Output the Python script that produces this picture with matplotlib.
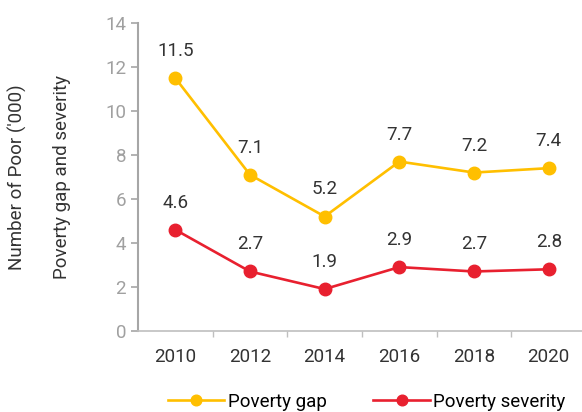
import matplotlib
matplotlib.use("Agg")
import matplotlib.pyplot as plt
from matplotlib.ticker import FixedLocator

years = [2010, 2012, 2014, 2016, 2018, 2020]
poverty_gap = [11.5, 7.1, 5.2, 7.7, 7.2, 7.4]
poverty_severity = [4.6, 2.7, 1.9, 2.9, 2.7, 2.8]
yticks = [0, 2, 4, 6, 8, 10, 12, 14]

plt.rcParams['font.family'] = ['Roboto', 'DejaVu Sans']
plt.rcParams['font.weight'] = 'normal'

fig = plt.figure(figsize=(5.82, 4.12), dpi=100)
ax = fig.add_axes([0.237, 0.197, 0.77, 0.747])

gap_c = '#FFBF00'
sev_c = '#E8202F'
txt_c = '#333333'
ax.plot(years, poverty_gap, color=gap_c, lw=1.9, marker='o', ms=9, label='Poverty gap', clip_on=False, zorder=3)
ax.plot(years, poverty_severity, color=sev_c, lw=1.9, marker='o', ms=9, label='Poverty severity', clip_on=False, zorder=3)

for x, y in zip(years, poverty_gap):
    ax.annotate(f"{y:.1f}", (x, y), xytext=(0, 13), textcoords='offset points',
                ha='center', va='bottom', fontsize=13.5, color=txt_c)
for x, y in zip(years, poverty_severity):
    ax.annotate(f"{y:.1f}", (x, y), xytext=(0, 13), textcoords='offset points',
                ha='center', va='bottom', fontsize=13.5, color=txt_c)

ax.set_xlim(2009, 2021)
ax.set_ylim(0, 14)
ax.set_yticks(yticks)
ax.set_xticks(years)
ax.xaxis.set_minor_locator(FixedLocator([2011, 2013, 2015, 2017, 2019]))
ax.tick_params(axis='y', colors='#A6A6A6', labelcolor='#A0A0A0', labelsize=13.5, length=5, width=1.2)
ax.tick_params(axis='x', which='major', length=0, labelsize=13.5, labelcolor=txt_c, pad=12)
ax.tick_params(axis='x', which='minor', length=4, width=1, color='#BFBFBF')
for s in ['top', 'right']:
    ax.spines[s].set_visible(False)
ax.spines['left'].set_color('#A6A6A6')
ax.spines['left'].set_linewidth(1.5)
ax.spines['bottom'].set_color('#BFBFBF')
ax.spines['bottom'].set_linewidth(1.2)

fig.text(0.03, 0.57, "Number of Poor ('000)", rotation=90, ha='center', va='center', fontsize=13.5, color=txt_c)
fig.text(0.107, 0.57, "Poverty gap and severity", rotation=90, ha='center', va='center', fontsize=13.5, color=txt_c)

fig.legend(loc='center', bbox_to_anchor=(0.63, 0.025), ncol=2, frameon=False, fontsize=13.5,
           handlelength=3, columnspacing=2.5, handletextpad=0.2, markerscale=0.85)

fig.savefig('out.png', dpi=100)
